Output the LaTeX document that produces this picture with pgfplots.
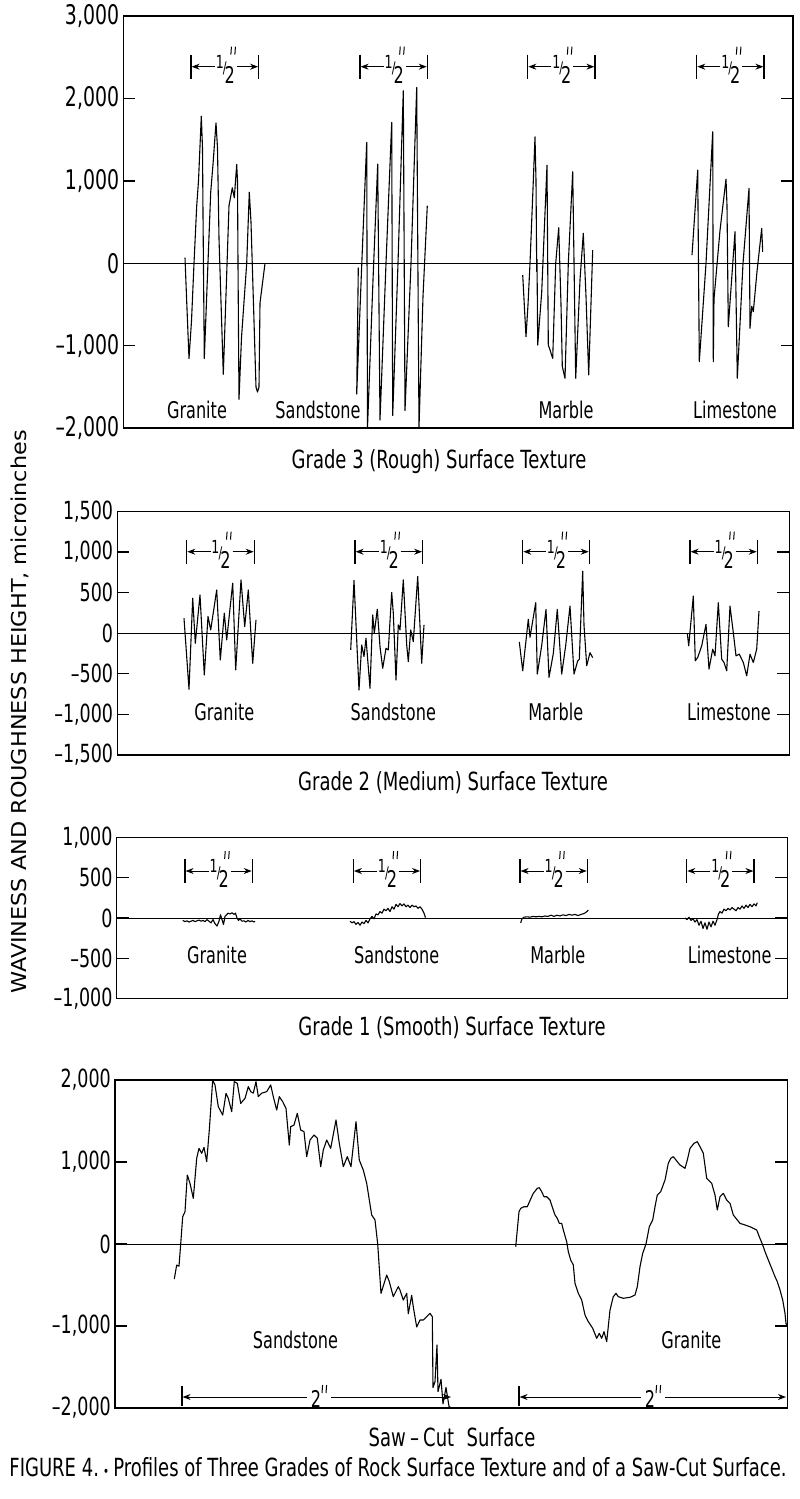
\documentclass[border=0pt]{standalone}
\usepackage{pgfplots}
\pgfplotsset{compat=1.18}
\usetikzlibrary{arrows.meta}
\usepackage{fontspec}
\setmainfont{DejaVu Sans}[FakeStretch=0.7]
\newfontfamily\ylabfont{DejaVu Sans}[FakeStretch=1.09]
\newfontfamily\capfont{DejaVu Sans}[FakeStretch=0.72]
\newcommand\fs[1]{\fontsize{#1}{#1}\selectfont}

\pgfplotsset{
  panel/.style={
    scale only axis,
    anchor=north west,
    axis line style={line width=1.6pt},
    xtick=\empty,
    ytick pos=both,
    yticklabel pos=left,
    tick align=inside,
    major tick length=12pt,
    tick style={line width=1.3pt, black},
    yticklabel style={font=\fs{25}, inner sep=0pt, xshift=-4pt},
    clip=true,
  },
  curve/.style={black, line width=1.1pt, line join=round, mark=none},
  zline/.style={black, line width=0.9pt, mark=none},
}

\newcommand\dprime[2]{%
  \draw[line width=1pt] (#1pt,#2pt) -- ({#1pt+0.6pt},{#2pt+8pt});
  \draw[line width=1pt] ({#1pt+4pt},#2pt) -- ({#1pt+4.6pt},{#2pt+8pt});
}
\newcommand\halfmark[3]{%
  \pgfmathsetmacro\hc{(#1+#2)/2}%
  \pgfmathsetmacro\hy{-#3}%
  \draw[line width=1.2pt] (#1pt,{-#3pt+12pt}) -- (#1pt,{-#3pt-12pt});
  \draw[line width=1.2pt] (#2pt,{-#3pt+12pt}) -- (#2pt,{-#3pt-12pt});
  \draw[line width=1pt,-{Stealth[length=8pt,width=6pt]}] ({\hc pt-10pt},-#3pt) -- ({#1pt+0.6pt},-#3pt);
  \draw[line width=1pt,-{Stealth[length=8pt,width=6pt]}] ({\hc pt+12pt},-#3pt) -- ({#2pt-0.6pt},-#3pt);
  \node[inner sep=0pt,font=\fs{18}] at ({\hc pt-5pt},{-#3pt+5pt}) {1};
  \node[inner sep=0pt,font=\fs{16}] at ({\hc pt},{-#3pt-2pt}) {/};
  \node[inner sep=0pt,font=\fs{23}] at ({\hc pt+5pt},{-#3pt-8pt}) {2};
  \pgfmathsetmacro\dx{\hc+6}%
  \pgfmathsetmacro\dy{\hy+12}%
  \dprime{\dx}{\dy}
}

\begin{document}
\begin{tikzpicture}
\useasboundingbox (0,0) rectangle (800pt,-1499pt);

%================ Panel 1: Grade 3 (Rough) ================
\begin{axis}[panel, at={(123.3pt,-16pt)}, width=669.7pt, height=412.3pt,
  xmin=123.3, xmax=793, ymin=-2000, ymax=3000,
  ytick={-2000,-1000,0,1000,2000,3000},
  yticklabels={{–2,000},{–1,000},0,{1,000},{2,000},{3,000}},
  yticklabel style={font=\fs{27}}]
\addplot[zline] coordinates {(123.3,0) (793,0)};
% Granite
\addplot[curve] coordinates {(185,69) (186.5,-400) (189,-1155) (191.5,-700) (194,0) (196.7,695) (198.5,1000) (201.3,1785) (202.5,1400) (203,600) (204.3,-1155) (207,-300) (210.7,860) (213,1200) (216,1704) (217.5,1400) (219,300) (223.3,-1345) (226.5,-200) (229,700) (232.3,917) (234.3,795) (236.7,1200) (237.5,1000) (238,0) (239,-1648) (241.5,-900) (246.7,0) (249.3,864) (251,500) (253,-300) (256,-1500) (257.5,-1560) (259,-1500) (260,-480) (265,0)};
% Sandstone
\addplot[curve] coordinates {(358.3,-50) (356.7,-1584) (361.7,-28) (366.7,1467) (367.5,-1990) (373,-200) (377.7,1204) (380,-1900) (386,0) (391.7,1709) (392.7,-1846) (398,0) (403.3,2093) (405,-1786) (411,0) (416.7,2133) (419,-1990) (423,-400) (427.3,699)};
% Marble
\addplot[curve] coordinates {(522.7,-141) (526,-889) (528,-500) (530,0) (533.3,1000) (535,1535) (536,1000) (536.7,-100) (537,50) (537.7,-990) (541.7,-350) (547,1192) (548.3,-990) (550,-1050) (552.7,-1151) (555.7,0) (558.7,432) (561,-500) (562.3,-1250) (565,-1394) (568.3,0) (572.7,1111) (575.7,-1394) (580,-200) (583.3,364) (586,-400) (588.7,-1353) (592.7,162)};
% Limestone
\addplot[curve] coordinates {(692,101) (697.7,1131) (699.3,-1192) (706,0) (712.7,1596) (713.3,-1192) (714,-430) (720,400) (726,1022) (727,700) (728.3,-768) (735,384) (737.3,-1394) (743,0) (749,909) (750,-788) (751.7,-520) (753.3,-586) (757,-100) (761.7,424) (762.7,141)};
\end{axis}

%================ Panel 2: Grade 2 (Medium) ================
\begin{axis}[panel, at={(117.3pt,-511.5pt)}, width=672pt, height=243.5pt,
  xmin=117.3, xmax=789.3, ymin=-1500, ymax=1500,
  ytick={-1500,-1000,-500,0,500,1000,1500},
  yticklabels={{–1,500},{–1,000},{–500},0,500,{1,000},{1,500}}]
\addplot[zline] coordinates {(117.3,0) (789.3,0)};
\addplot[curve] coordinates {(184,185) (189,-690) (192.7,432) (195.3,-123) (200,473) (204.3,-514) (208,206) (210.7,41) (216.7,534) (220.3,-329) (224.3,247) (226.7,-82) (232.7,617) (235.7,-452) (241,658) (244.7,82) (248.3,534) (252.7,-370) (256,164)};
\addplot[curve] coordinates {(350.7,-206) (354,650) (359,-700) (361.7,-144) (364,-288) (366,-62) (370,-679) (372.7,226) (374.3,0) (377.3,296) (380,-165) (382.7,-432) (386,-185) (388.3,-206) (391.7,502) (393.3,247) (396,-576) (398.3,103) (400,41) (403.3,658) (406.7,-144) (408.3,-350) (410.7,41) (413.3,-103) (417.7,700) (421.7,-370) (424,103)};
\addplot[curve] coordinates {(519.3,-106) (522.7,-462) (528.3,172) (530,-50) (535.7,376) (537.3,-503) (541.7,-150) (546,294) (549,-544) (553.3,-250) (557.3,294) (561.7,-503) (565.7,-150) (570,335) (574,-503) (577.7,-340) (579.3,-320) (582.7,765) (584,100) (586.7,-400) (590,-240) (592.7,-300)};
\addplot[curve] coordinates {(687.3,0) (688.7,-155) (693.3,458) (695.3,-339) (697.7,-299) (701.7,-155) (706,110) (709,-442) (712.7,-196) (715,-278) (718.3,376) (721.7,-319) (724,-360) (726.7,-462) (730,335) (733.3,8) (736,-278) (739.3,-258) (743.3,-360) (746.7,-524) (750,-258) (753.3,-360) (756.7,-196) (759,274)};
\end{axis}

%================ Panel 3: Grade 1 (Smooth) ================
\begin{axis}[panel, at={(116.7pt,-837.5pt)}, width=670.6pt, height=161pt,
  xmin=116.7, xmax=787.3, ymin=-1000, ymax=1000,
  ytick={-1000,-500,0,500,1000},
  yticklabels={{–1,000},{–500},0,500,{1,000}}]
\addplot[zline] coordinates {(116.7,0) (787.3,0)};
\addplot[curve] coordinates {(182.7,-30) (185,-45) (187,-35) (189,-50) (191,-40) (193,-30) (195,-45) (197,-35) (199,-25) (201,-40) (203,-30) (205,-45) (207,-20) (209,-40) (211,-60) (213,-20) (215,-70) (217,-100) (219,-40) (220.5,40) (222,-20) (223.5,-80) (225,20) (226.5,40) (228,60) (230,50) (232,65) (234,45) (235.5,60) (237,0) (238.5,-30) (240,-10) (242,-40) (244,-35) (246,-50) (248,-30) (250,-45) (252,-35) (254,-50) (255,-40)};
\addplot[curve] coordinates {(350,-40) (352,-60) (354,-45) (356,-80) (358,-55) (360,-90) (362,-50) (364,-70) (366,-30) (368,-60) (370,-10) (372,20) (374,-10) (376,50) (378,40) (380,80) (382,60) (384,110) (386,90) (388,120) (390,80) (392,140) (394,110) (396,170) (398,140) (400,180) (402,150) (404,175) (406,140) (408,160) (410,130) (412,160) (414,140) (416,150) (418,120) (420,140) (422,110) (424,60) (425.5,5)};
\addplot[curve] coordinates {(520.7,-60) (522,-10) (524,10) (527,15) (530,10) (533,20) (536,15) (539,20) (542,15) (545,25) (548,20) (551,35) (554,20) (557,35) (560,25) (563,40) (566,30) (569,45) (572,35) (575,45) (578,30) (581,45) (584,55) (587,80) (588.3,100)};
\addplot[curve] coordinates {(685,0) (687,-20) (689,10) (691,-30) (693,-10) (695,-50) (697,-20) (699,-90) (701,-40) (703,-130) (705,-60) (707,-140) (709,-50) (711,-110) (713,-40) (715,-90) (717,-20) (718.5,50) (720,80) (722,60) (724,110) (726,90) (728,120) (730,100) (732,130) (734,110) (736,90) (738,130) (740,110) (742,150) (744,120) (746,160) (748,130) (750,170) (752,140) (754,175) (756,150) (757.3,190)};
\end{axis}

%================ Panel 4: Saw-Cut Surface ================
\begin{axis}[panel, at={(115pt,-1080pt)}, width=672.3pt, height=328pt,
  xmin=115, xmax=787.3, ymin=-2000, ymax=2000,
  ytick={-2000,-1000,0,1000,2000},
  yticklabels={{–2,000},{–1,000},0,{1,000},{2,000}}]
\addplot[zline] coordinates {(115,0) (787.3,0)};
% Sandstone
\addplot[curve] coordinates {(174.3,-427) (176.7,-256) (179,-270) (180.7,0) (182.7,333) (185,394) (187.3,841) (190,740) (193.3,557) (196.7,1045) (199,1167) (201.7,1106) (204,1179) (206.7,1004) (209.3,1390) (212.7,2000) (215,1939) (218.3,1675) (222.7,1573) (226,1837) (228.3,1776) (231.7,1614) (234.3,1980) (237.3,1959) (240.7,1715) (245,1776) (248.3,1919) (250.7,1858) (253.3,1840) (256,1980) (258.3,1797) (261.7,1840) (266.7,1858) (270.7,1939) (273.3,1797) (276.7,1634) (279.3,1797) (282.7,1736) (286,1654) (289.3,1207) (290.7,1431) (294,1451) (297.3,1594) (300.7,1390) (304,1370) (306.7,1065) (310,1268) (314,1329) (317.3,1290) (320.7,943) (323.3,1146) (326.7,1268) (330.7,1167) (336,1512) (339.3,1228) (343.3,943) (347.3,1065) (351,943) (356,1492) (359.3,1024) (363.3,902) (366.7,740) (369.3,537) (371.7,354) (375,293) (377.7,0) (381,-602) (386.7,-378) (389.3,-459) (393.3,-642) (398.3,-520) (400,-561) (403.3,-683) (406.7,-602) (408.3,-850) (411.7,-626) (413.3,-768) (416.7,-1012) (420,-927) (423.3,-927) (426.7,-886) (430,-846) (432.3,-886) (433,-1750) (435,-1680) (437,-1230) (438,-1800) (441,-1650) (443,-1950) (446,-1750) (449,-1980) (451,-2000)};
% Granite
\addplot[curve] coordinates {(515.7,-33) (519,394) (520.7,435) (524,455) (527.3,455) (530,530) (533.3,618) (537.3,679) (539.3,687) (541.7,638) (544,577) (546.7,577) (550,537) (552.7,435) (555,354) (557.3,313) (559.3,252) (561.7,252) (563.3,171) (566.7,28) (568.3,-93) (570.7,-195) (573.3,-256) (575,-480) (578.3,-602) (581.7,-683) (585,-866) (588.3,-947) (592.7,-1028) (596.7,-1150) (599.3,-1089) (601.7,-1150) (604,-1069) (606.7,-1191) (610,-805) (613.3,-642) (616,-602) (618.3,-642) (623.3,-662) (630,-650) (635,-622) (637.3,-520) (640,-276) (642.7,-114) (646,0) (649.3,211) (652.7,293) (655,455) (657.3,598) (660.7,638) (665,780) (668.3,984) (670.7,1045) (673.3,1065) (676,1024) (680,963) (682.7,943) (685,923) (687.3,1024) (690,1167) (694,1228) (697.3,1248) (700,1187) (703.3,1106) (706.7,801) (711.7,740) (715,598) (717.3,415) (720,577) (723.3,618) (726.7,537) (730,496) (733.3,354) (737.3,293) (740,252) (745,232) (750,211) (753.3,191) (756.7,171) (759.3,89) (762.7,-12) (765,-93) (768.3,-195) (771.7,-297) (775,-398) (777.3,-459) (780,-561) (782.7,-683) (785,-846) (786,-967) (787,-1000)};
\end{axis}

%================ Annotations ================
\halfmark{191}{258.7}{66.7}
\halfmark{360}{427.3}{66.7}
\halfmark{527.7}{595}{66.7}
\halfmark{696.7}{764}{66.7}
\halfmark{186.7}{254.3}{551.7}
\halfmark{355}{422.7}{551.7}
\halfmark{522.7}{589.3}{551.7}
\halfmark{690}{757.3}{551.7}
\halfmark{185}{252.3}{871}
\halfmark{353.3}{420.7}{871}
\halfmark{520}{587.3}{871}
\halfmark{686.7}{754}{871}

\begin{scope}[every node/.style={font=\fs{23}, inner sep=0pt}]
\node at (197pt,-410pt) {Granite};
\node at (318pt,-410pt) {Sandstone};
\node at (566pt,-410pt) {Marble};
\node at (735pt,-410pt) {Limestone};
\node at (224.3pt,-711.7pt) {Granite};
\node at (393.3pt,-711.7pt) {Sandstone};
\node at (555.8pt,-711.7pt) {Marble};
\node at (729pt,-711.7pt) {Limestone};
\node at (217pt,-955pt) {Granite};
\node at (396.7pt,-955pt) {Sandstone};
\node at (557.8pt,-955pt) {Marble};
\node at (729.7pt,-955pt) {Limestone};
\node at (295.5pt,-1340pt) {Sandstone};
\node at (691.3pt,-1340pt) {Granite};
\end{scope}

% 2-inch markers (saw-cut)
\draw[line width=1.2pt] (182pt,-1386pt) -- (182pt,-1406pt);
\draw[line width=1pt,-{Stealth[length=8pt,width=6pt]}] (307pt,-1397pt) -- (182.6pt,-1397pt);
\draw[line width=1pt,-{Stealth[length=8pt,width=6pt]}] (331pt,-1397pt) -- (451pt,-1397pt);
\node[inner sep=0pt,font=\fs{23}] at (316pt,-1399pt) {2};
\dprime{322}{-1393}
\draw[line width=1.2pt] (519pt,-1386pt) -- (519pt,-1406pt);
\draw[line width=1pt,-{Stealth[length=8pt,width=6pt]}] (641pt,-1397pt) -- (519.6pt,-1397pt);
\draw[line width=1pt,-{Stealth[length=8pt,width=6pt]}] (665pt,-1397pt) -- (786pt,-1397pt);
\node[inner sep=0pt,font=\fs{23}] at (650pt,-1399pt) {2};
\dprime{656}{-1393}

\begin{scope}[every node/.style={font=\capfont\fs{25}, inner sep=0pt}]
\node at (439pt,-462pt) {Grade 3 (Rough) Surface Texture};
\node at (453pt,-783pt) {Grade 2 (Medium) Surface Texture};
\node at (452pt,-1028pt) {Grade 1 (Smooth) Surface Texture};
\node at (452pt,-1437pt) {Saw\,–\,Cut\enspace Surface};
\node at (398pt,-1467pt) {FIGURE 4.\,{\fs{14}•}\,Profiles of Three Grades of Rock Surface Texture and of a Saw-Cut Surface.};
\end{scope}

\node[rotate=90, inner sep=0pt, font=\ylabfont\fs{20.5}] at (19.5pt,-712pt) {WAVINESS AND ROUGHNESS HEIGHT, microinches};
\end{tikzpicture}
\end{document}
